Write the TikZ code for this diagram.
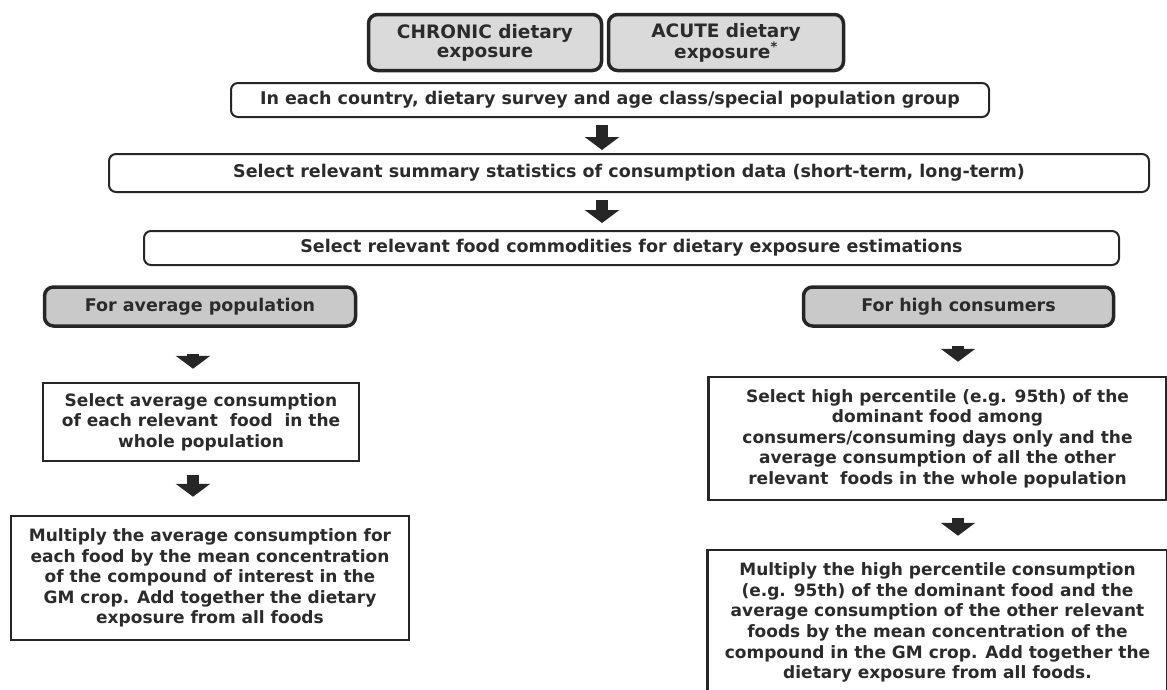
\documentclass[tikz,border=0pt]{standalone}
\usepackage{fontspec}
\setmainfont{DejaVu Sans}
\usepackage{xcolor}
\usetikzlibrary{arrows.meta,calc}
\definecolor{darkline}{HTML}{262626}
\definecolor{darktext}{HTML}{2B2B2B}
\definecolor{headergray}{HTML}{DADADA}
\definecolor{branchgray}{HTML}{C9C9C9}

\tikzset{
  headbox/.style={draw=darkline, line width=3.5pt, fill=headergray, rounded corners=9pt,
    align=center, inner sep=0pt, text=darktext, font=\bfseries\fontsize{18.5}{19}\selectfont},
  branchbox/.style={headbox, fill=branchgray, font=\bfseries\fontsize{17.5}{19}\selectfont},
  flowbox/.style={draw=darkline, line width=2pt, rounded corners=7pt, fill=white,
    align=center, inner sep=0pt, text=darktext, font=\bfseries\fontsize{17.5}{19}\selectfont},
  stepbox/.style={draw=darkline, line width=2.5pt, fill=white,
    align=center, inner sep=0pt, text=darktext, font=\bfseries\fontsize{17}{20.6}\selectfont},
  blockarrow/.style={draw=darkline, line width=12pt, -{Triangle[width=34pt,length=13pt]}},
}

\begin{document}
\begin{tikzpicture}[x=1pt,y=-1pt]
\useasboundingbox (0,0) rectangle (1167,689);
\clip (0,0) rectangle (1167,689);

% exposure type headers
\node[headbox, minimum width=233pt, minimum height=56pt] (chronic) at (485,42.5) {CHRONIC dietary\\exposure};
\node[headbox, minimum width=235pt, minimum height=56pt] (acute) at (726,42.5) {ACUTE dietary\\exposure\textsuperscript{*}};

% common steps
\node[flowbox, minimum width=758pt, minimum height=34pt] (country) at (610,100) {In each country, dietary survey and age class/special population group};
\node[flowbox, minimum width=1040pt, minimum height=38pt] (stats) at (629,173) {Select relevant summary statistics of consumption data (short-term, long-term)};
\node[flowbox, minimum width=975pt, minimum height=34pt] (commod) at (631.5,248) {Select relevant food commodities for dietary exposure estimations};

% population branches
\node[branchbox, minimum width=311pt, minimum height=39pt] (avgpop) at (200,306.5) {For average population};
\node[branchbox, minimum width=310pt, minimum height=39pt] (highcons) at (958.5,306.5) {For high consumers};

\node[stepbox, minimum width=316pt, minimum height=78pt] (avgsel) at (201,422) {Select average consumption\\of each relevant\ \ food\ \ in the\\whole population};
\node[stepbox, minimum width=398pt, minimum height=124pt] (avgmult) at (210,578) {Multiply the average consumption for\\each food by the mean concentration\\of the compound of interest in the\\GM crop. Add together the dietary\\exposure from all foods};

\node[stepbox, minimum width=458pt, minimum height=123pt] (highsel) at (937.5,438.5) {Select high percentile (e.g. 95th) of the\\dominant food among\\consumers/consuming days only and the\\average consumption of all the other\\relevant\ \ foods in the whole population};
\node[stepbox, minimum width=460pt, minimum height=145pt] (highmult) at (937.5,622.5) {Multiply the high percentile consumption\\(e.g. 95th) of the dominant food and the\\average consumption of the other relevant\\foods by the mean concentration of the\\compound in the GM crop. Add together the\\dietary exposure from all foods.};

% arrow axes
\coordinate (midaxis) at (602,0);
\coordinate (leftaxis) at (193,0);
\coordinate (rightaxis) at (958,0);

% block arrows
\foreach \from/\to/\axis/\gapa/\gapb in {country/stats/midaxis/7/3, stats/commod/midaxis/7/7,
    avgpop/avgsel/leftaxis/26/13, avgsel/avgmult/leftaxis/13/18,
    highcons/highsel/rightaxis/18/14, highsel/highmult/rightaxis/17/13}
    \draw[blockarrow] ($(\from.south -| \axis)+(0,\gapa)$) -- ($(\to.north -| \axis)-(0,\gapb)$);
\end{tikzpicture}
\end{document}
